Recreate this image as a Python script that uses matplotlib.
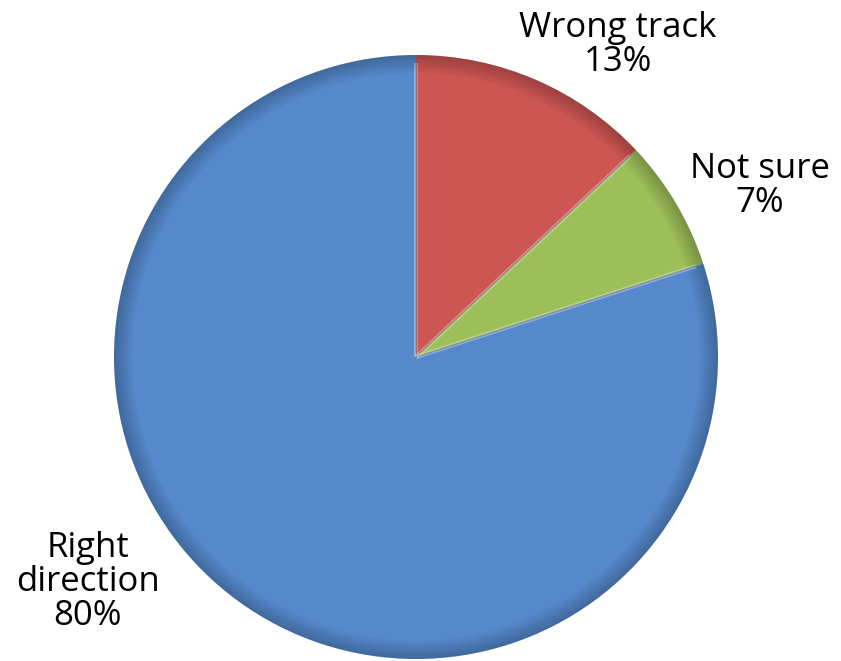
import numpy as np
import matplotlib.pyplot as plt
from matplotlib.patches import Wedge

# Opinion poll: is the country heading the right way?
labels = ["Wrong track", "Not sure", "Right direction"]
shares = [13, 7, 80]
label_text = ["Wrong track\n13%", "Not sure\n7%", "Right\ndirection\n80%"]
colors = ["#cd5653", "#9dbf5a", "#5589cc"]

fig = plt.figure(figsize=(8.41, 6.61), dpi=100)
ax = fig.add_axes([0, 0, 1, 1])

cx, cy, r = 416, 304, 302

# pie starts at 12 o'clock and runs clockwise
wedges, _ = ax.pie(shares, colors=colors, startangle=90, counterclock=False,
                   radius=r, center=(cx, cy), frame=True,
                   wedgeprops=dict(linewidth=0))
ax.set_xlim(0, 841)
ax.set_ylim(0, 661)
ax.set_aspect("equal")
ax.axis("off")

# darker rim to fake the bevel
for w in wedges:
    for k in range(12):
        rr = r - k * 1.5
        ax.add_patch(Wedge((cx, cy), rr, w.theta1, w.theta2, width=1.6,
                           facecolor="black", alpha=0.22 * (1 - k / 12),
                           linewidth=0))
    # soft streak along the slice edges
    for ang in (w.theta1, w.theta2):
        t = np.deg2rad(ang)
        ax.plot([cx, cx + (r - 8) * np.cos(t)], [cy, cy + (r - 8) * np.sin(t)],
                color="white", alpha=0.18, lw=3, solid_capstyle="butt")
        ax.plot([cx, cx + (r - 8) * np.cos(t)], [cy, cy + (r - 8) * np.sin(t)],
                color="black", alpha=0.15, lw=1, solid_capstyle="butt")

font = dict(fontsize=25, family=["Open Sans", "DejaVu Sans"], color="black",
            ha="center", va="center", linespacing=1.0)
ax.text(618, 661 - 45, label_text[0], **font)
ax.text(760, 661 - 186, label_text[1], **font)
ax.text(88, 661 - 582, label_text[2], **font)

fig.savefig("out.png", dpi=100)
